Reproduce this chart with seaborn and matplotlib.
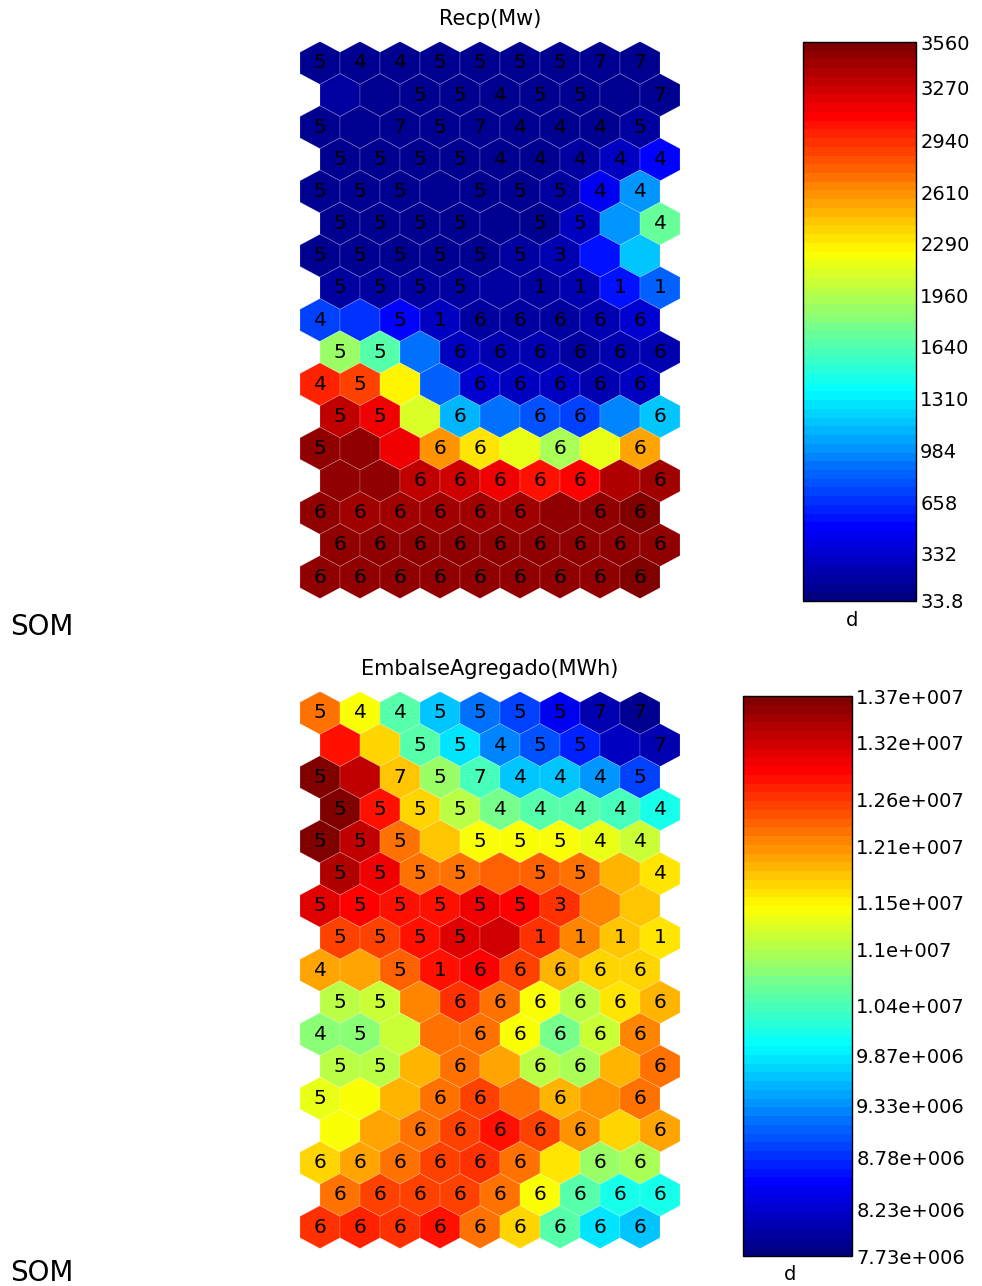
import numpy as np
import matplotlib
matplotlib.use("Agg")
import matplotlib.pyplot as plt
from matplotlib.collections import PolyCollection
from matplotlib.colors import ListedColormap, LinearSegmentedColormap, Normalize
import seaborn as sns

# MAPA SOM 17 x 9 (GRADE HEXAGONAL)
N_LIN, N_COL = 17, 9

# RÓTULOS DOS NEURÔNIOS (IGUAIS NOS DOIS PLANOS)
rotulos = [
    ["5", "4", "4", "5", "5", "5", "5", "7", "7"],
    ["", "", "5", "5", "4", "5", "5", "", "7"],
    ["5", "", "7", "5", "7", "4", "4", "4", "5"],
    ["5", "5", "5", "5", "4", "4", "4", "4", "4"],
    ["5", "5", "5", "", "5", "5", "5", "4", "4"],
    ["5", "5", "5", "5", "", "5", "5", "", "4"],
    ["5", "5", "5", "5", "5", "5", "3", "", ""],
    ["5", "5", "5", "5", "", "1", "1", "1", "1"],
    ["4", "", "5", "1", "6", "6", "6", "6", "6"],
    ["5", "5", "", "6", "6", "6", "6", "6", "6"],
    ["4", "5", "", "", "6", "6", "6", "6", "6"],
    ["5", "5", "", "6", "", "6", "6", "", "6"],
    ["5", "", "", "6", "6", "", "6", "", "6"],
    ["", "", "6", "6", "6", "6", "6", "", "6"],
    ["6", "6", "6", "6", "6", "6", "", "6", "6"],
    ["6", "6", "6", "6", "6", "6", "6", "6", "6"],
    ["6", "6", "6", "6", "6", "6", "6", "6", "6"],
]

# PLANO 1 - Recp(Mw)
recp = [
    [120, 125, 125, 120, 120, 120, 115, 110, 100],
    [150, 140, 130, 130, 130, 125, 120, 110, 100],
    [130, 130, 120, 120, 120, 120, 130, 140, 150],
    [130, 130, 130, 130, 130, 140, 160, 300, 510],
    [130, 130, 130, 130, 130, 140, 160, 420, 1000],
    [130, 130, 130, 130, 130, 140, 300, 1020, 1690],
    [140, 140, 140, 140, 140, 150, 200, 560, 1180],
    [150, 150, 160, 160, 150, 170, 250, 530, 830],
    [700, 650, 510, 290, 180, 180, 190, 220, 320],
    [1900, 1660, 915, 290, 220, 200, 190, 210, 220],
    [2960, 2890, 2240, 860, 320, 280, 260, 250, 280],
    [3310, 3120, 2080, 1130, 900, 780, 700, 930, 1180],
    [3490, 3460, 3120, 2590, 2330, 2150, 1940, 2150, 2540],
    [3490, 3450, 3310, 3250, 3120, 3060, 3090, 3340, 3430],
    [3490, 3430, 3400, 3400, 3430, 3420, 3450, 3490, 3540],
    [3490, 3450, 3450, 3450, 3460, 3460, 3490, 3490, 3500],
    [3480, 3470, 3460, 3470, 3470, 3480, 3490, 3500, 3510],
]
recp_min, recp_max = 33.8, 3560
recp_ticks = [33.8, 332, 658, 984, 1310, 1640, 1960, 2290, 2610, 2940, 3270, 3560]
recp_ticklabels = ["33.8", "332", "658", "984", "1310", "1640", "1960",
                   "2290", "2610", "2940", "3270", "3560"]

# PLANO 2 - EmbalseAgregado(MWh)
embalse = [
    [12.27e6, 11.37e6, 10.45e6, 9.67e6, 9.13e6, 8.86e6, 8.45e6, 8.09e6, 7.91e6],
    [12.80e6, 11.70e6, 10.48e6, 9.79e6, 9.28e6, 8.98e6, 8.69e6, 8.18e6, 8.09e6],
    [13.70e6, 13.25e6, 11.76e6, 10.83e6, 10.36e6, 9.67e6, 9.65e6, 9.37e6, 8.86e6],
    [13.70e6, 12.80e6, 11.70e6, 11.07e6, 10.66e6, 10.45e6, 10.45e6, 10.36e6, 10.15e6],
    [13.68e6, 13.28e6, 12.27e6, 11.76e6, 11.40e6, 11.40e6, 11.37e6, 11.31e6, 11.13e6],
    [13.40e6, 13.04e6, 12.27e6, 12.21e6, 12.33e6, 12.33e6, 12.24e6, 11.85e6, 11.58e6],
    [13.07e6, 12.95e6, 12.83e6, 12.79e6, 13.04e6, 12.95e6, 12.65e6, 12.15e6, 11.76e6],
    [12.51e6, 12.58e6, 12.79e6, 13.07e6, 13.16e6, 12.65e6, 12.15e6, 11.76e6, 11.58e6],
    [11.94e6, 11.98e6, 12.33e6, 12.83e6, 12.95e6, 12.57e6, 11.88e6, 11.70e6, 11.70e6],
    [11.01e6, 11.16e6, 12.15e6, 12.65e6, 12.27e6, 11.46e6, 11.01e6, 11.64e6, 11.91e6],
    [10.77e6, 10.74e6, 11.16e6, 12.27e6, 12.27e6, 11.46e6, 10.69e6, 11.16e6, 12.15e6],
    [11.01e6, 11.01e6, 11.85e6, 12.21e6, 11.98e6, 11.01e6, 10.95e6, 11.88e6, 12.30e6],
    [11.31e6, 11.37e6, 11.91e6, 12.30e6, 12.58e6, 12.27e6, 11.91e6, 12.03e6, 12.30e6],
    [11.46e6, 11.98e6, 12.27e6, 12.58e6, 12.85e6, 12.58e6, 12.09e6, 11.70e6, 11.98e6],
    [11.67e6, 11.98e6, 12.27e6, 12.51e6, 12.65e6, 12.27e6, 11.64e6, 10.86e6, 10.95e6],
    [12.27e6, 12.51e6, 12.58e6, 12.51e6, 12.27e6, 11.37e6, 10.48e6, 10.15e6, 10.15e6],
    [12.65e6, 12.72e6, 12.65e6, 12.79e6, 12.30e6, 11.73e6, 10.48e6, 9.79e6, 9.67e6],
]
emb_min, emb_max = 7.73e6, 1.37e7
emb_ticks = [7.73e6, 8.23e6, 8.78e6, 9.33e6, 9.87e6, 1.04e7, 1.10e7, 1.15e7,
             1.21e7, 1.26e7, 1.32e7, 1.37e7]
emb_ticklabels = ["7.73e+006", "8.23e+006", "8.78e+006", "9.33e+006", "9.87e+006",
                  "1.04e+007", "1.1e+007", "1.15e+007", "1.21e+007", "1.26e+007",
                  "1.32e+007", "1.37e+007"]

sns.set_theme(style="white")
plt.rcParams['font.family'] = ['DejaVu Sans']
plt.rcParams['text.color'] = 'black'

# COLORMAP JET DO MATLAB COM 64 CORES
jet_matlab = LinearSegmentedColormap.from_list(
    "jet_matlab",
    [(0.0, (0, 0, 0.5)), (0.125, (0, 0, 1)), (0.375, (0, 1, 1)),
     (0.625, (1, 1, 0)), (0.875, (1, 0, 0)), (1.0, (0.5, 0, 0))])
cmap = ListedColormap(jet_matlab(np.linspace(0, 1, 64)))

W, H = 982, 1286
fig = plt.figure(figsize=(W / 100, H / 100), dpi=100)
fig.patch.set_facecolor("white")


def px(x0, y0, x1, y1):
    # CONVERTE RETANGULO EM PIXELS PARA COORDENADAS DA FIGURA
    return [x0 / W, 1 - y1 / H, (x1 - x0) / W, (y1 - y0) / H]


def plano(caixa_hex, caixa_cb, valores, vmin, vmax, ticks, ticklabels, titulo, y_tit, pos_d, y_som):
    ax = fig.add_axes(px(*caixa_hex))
    hexagonos, cores = [], []
    for r in range(N_LIN):
        for c in range(N_COL):
            x = c + 0.5 * (r % 2)
            hexagonos.append([(x, r - 2 / 3), (x + 0.5, r - 1 / 3), (x + 0.5, r + 1 / 3),
                              (x, r + 2 / 3), (x - 0.5, r + 1 / 3), (x - 0.5, r - 1 / 3)])
            cores.append(valores[r][c])
            if rotulos[r][c]:
                ax.text(x, r, rotulos[r][c], ha="center", va="center", fontsize=14.5,
                        color="black", zorder=3)
    coll = PolyCollection(hexagonos, cmap=cmap, norm=Normalize(vmin, vmax),
                          edgecolors=(1, 1, 1, 0.22), linewidths=0.6)
    coll.set_array(np.array(cores))
    ax.add_collection(coll)
    ax.set_xlim(-0.5, 9.0)
    ax.set_ylim(N_LIN - 1 + 2 / 3, -2 / 3)
    ax.axis("off")

    cax = fig.add_axes(px(*caixa_cb))
    cb = fig.colorbar(coll, cax=cax)
    cb.set_ticks(ticks, labels=ticklabels)
    cax.tick_params(direction="in", length=4, width=0.8, left=True, right=True,
                    labelsize=14, pad=3, colors="black")
    cb.outline.set_linewidth(1.0)
    cb.outline.set_edgecolor("black")

    fig.text(490 / W, 1 - y_tit / H, titulo, ha="center", va="center", fontsize=15, color="black")
    fig.text(pos_d[0] / W, 1 - pos_d[1] / H, "d", ha="center", va="center", fontsize=14, color="black")
    fig.text(10 / W, 1 - y_som / H, "SOM", ha="left", va="center", fontsize=20, color="black")


plano((300, 41.5, 680, 598.5), (803, 42, 916, 601), recp, recp_min, recp_max,
      recp_ticks, recp_ticklabels, "Recp(Mw)", 19, (852, 621), 627)
plano((300, 691.5, 680, 1248.5), (743, 696, 852, 1256), embalse, emb_min, emb_max,
      emb_ticks, emb_ticklabels, "EmbalseAgregado(MWh)", 669, (790, 1274), 1273)

fig.savefig("out.png", dpi=100)
